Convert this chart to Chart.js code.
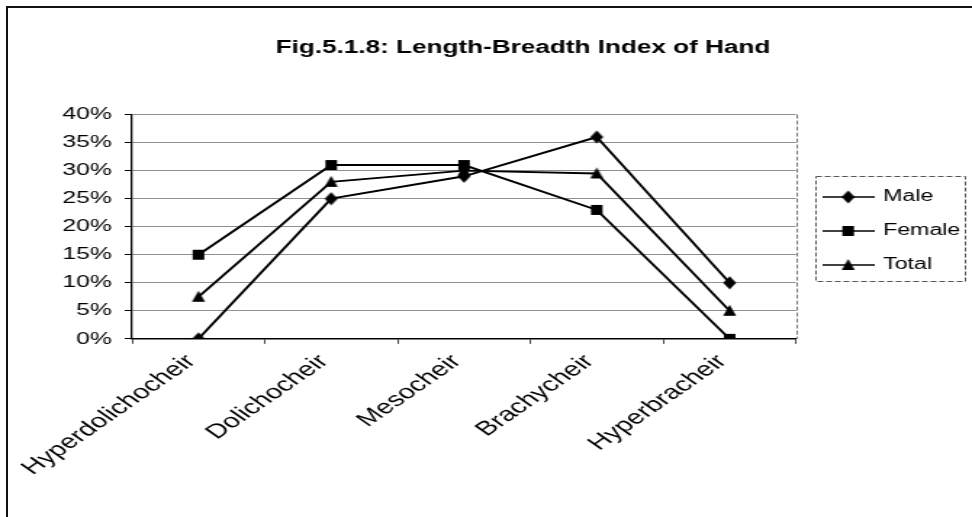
<!DOCTYPE html>
<html>
<head>
<meta charset="utf-8">
<script src="https://cdn.jsdelivr.net/npm/chart.js@4.4.1/dist/chart.umd.min.js"></script>
<style>
  html, body { margin: 0; padding: 0; background: #fff; overflow: hidden; }
  /* the scanned original is stretched sideways, so draw narrow and stretch */
  #wrap { position: absolute; left: 0; top: 0; width: 670px; height: 517px;
          transform: scaleX(1.4507); transform-origin: 0 0; }
  #frame { position: absolute; left: 6px; top: 6px; width: 1000px; height: 600px;
           border-left: 2px solid #111; border-top: 2px solid #111; pointer-events: none; }
</style>
</head>
<body>
<div id="wrap">
  <canvas id="chart" width="670" height="517"></canvas>
</div>
<div id="frame"></div>
<script>
const categories = ['Hyperdolichocheir', 'Dolichocheir', 'Mesocheir', 'Brachycheir', 'Hyperbracheir'];
const male = [0, 25, 29, 36, 10];
const female = [15, 31, 31, 23, 0];
const total = [7.5, 28, 30, 29.5, 5];
const yTicks = [0, 5, 10, 15, 20, 25, 30, 35, 40];

const FONT = "'Liberation Sans', Arial, sans-serif";

// marker shapes drawn narrow, they get widened by the stretch
function markerPath(ctx, style, cx, cy) {
    ctx.beginPath();
    if (style === 'diamond') {
        ctx.moveTo(cx, cy - 6.5); ctx.lineTo(cx + 4.5, cy); ctx.lineTo(cx, cy + 6.5); ctx.lineTo(cx - 4.5, cy);
    } else if (style === 'square') {
        ctx.rect(cx - 4, cy - 5, 8, 10);
    } else {
        ctx.moveTo(cx, cy - 6); ctx.lineTo(cx + 4.5, cy + 5); ctx.lineTo(cx - 4.5, cy + 5);
    }
    ctx.closePath();
    ctx.fill();
}

function markerImage(style) {
    const c = document.createElement('canvas');
    c.width = 12;
    c.height = 14;
    const ctx = c.getContext('2d');
    ctx.fillStyle = '#000';
    markerPath(ctx, style, 6, 7);
    return c;
}

function legendIcon(style) {
    const c = document.createElement('canvas');
    c.width = 36;
    c.height = 14;
    const ctx = c.getContext('2d');
    ctx.strokeStyle = '#000';
    ctx.lineWidth = 1.5;
    ctx.beginPath();
    ctx.moveTo(0, 7);
    ctx.lineTo(36, 7);
    ctx.stroke();
    ctx.fillStyle = '#000';
    markerPath(ctx, style, 18, 7);
    return c;
}

const framePlugin = {
    id: 'frames',
    afterLayout(chart) {
        // nudge the legend and the title to where the original has them
        const lg = chart.legend;
        lg.top -= 12; lg.bottom -= 12;
        lg.left += 2; lg.right += 2;
        const tb = chart.titleBlock;
        tb.left += 4; tb.right += 4;
    },
    afterDraw(chart) {
        const ctx = chart.ctx;
        const a = chart.chartArea;
        ctx.save();
        ctx.strokeStyle = '#777';
        ctx.lineWidth = 1;
        ctx.setLineDash([4, 2]);
        ctx.beginPath();
        ctx.moveTo(Math.round(a.right) + 0.5, a.top);
        ctx.lineTo(Math.round(a.right) + 0.5, a.bottom);
        ctx.stroke();
        const boxes = chart.legend.legendHitBoxes;
        if (boxes && boxes.length) {
            const l = Math.min(...boxes.map(b => b.left)) - 7;
            const r = Math.max(...boxes.map(b => b.left + b.width)) + 3;
            const t = Math.min(...boxes.map(b => b.top)) - 13;
            const btm = Math.max(...boxes.map(b => b.top + b.height)) + 8;
            ctx.strokeStyle = '#555';
            ctx.strokeRect(Math.round(l) + 0.5, Math.round(t) + 0.5, Math.round(r - l), Math.round(btm - t));
        }
        ctx.restore();
    }
};

function series(label, data, style) {
    return {
        label: label,
        data: data,
        borderColor: '#000',
        backgroundColor: '#000',
        borderWidth: 1.9,
        pointStyle: markerImage(style),
        pointRadius: 6,
        pointHoverRadius: 6,
        tension: 0,
        legendIcon: legendIcon(style)
    };
}

new Chart(document.getElementById('chart'), {
    type: 'line',
    data: {
        labels: categories,
        datasets: [
            series('Male', male, 'diamond'),
            series('Female', female, 'square'),
            series('Total', total, 'triangle')
        ]
    },
    options: {
        responsive: false,
        animation: false,
        layout: { padding: { left: 43, right: 0, top: 0, bottom: 31 } },
        plugins: {
            title: {
                display: true,
                text: 'Fig.5.1.8: Length-Breadth Index of Hand',
                color: '#000',
                font: { family: FONT, size: 18, weight: 'bold' },
                padding: { top: 37, bottom: 56 }
            },
            legend: {
                position: 'right',
                labels: {
                    color: '#000',
                    font: { family: FONT, size: 16 },
                    usePointStyle: true,
                    pointStyleWidth: 32,
                    padding: 18,
                    generateLabels(chart) {
                        return chart.data.datasets.map((ds, i) => ({
                            text: ds.label,
                            pointStyle: ds.legendIcon,
                            fillStyle: '#000',
                            strokeStyle: '#000',
                            lineWidth: 0,
                            datasetIndex: i,
                            fontColor: '#000'
                        }));
                    }
                }
            },
            tooltip: { enabled: false }
        },
        scales: {
            x: {
                offset: true,
                border: { color: '#000', width: 1.5 },
                grid: { offset: true, drawOnChartArea: false, drawTicks: true, tickLength: 5, tickColor: '#444' },
                ticks: {
                    color: '#000',
                    font: { family: FONT, size: 20 },
                    minRotation: 45,
                    maxRotation: 45,
                    padding: 6,
                    labelOffset: -5
                }
            },
            y: {
                min: 0,
                max: 40,
                afterBuildTicks(axis) {
                    axis.ticks = yTicks.map(v => ({ value: v }));
                },
                afterFit(axis) {
                    axis.width = 48;
                },
                border: { color: '#000', width: 1.3 },
                grid: { color: '#8f8f8f', lineWidth: 1, tickLength: 5, tickColor: '#000' },
                ticks: {
                    color: '#000',
                    font: { family: FONT, size: 17 },
                    padding: 9,
                    callback: v => v + '%'
                }
            }
        }
    },
    plugins: [framePlugin]
});
</script>
</body>
</html>
